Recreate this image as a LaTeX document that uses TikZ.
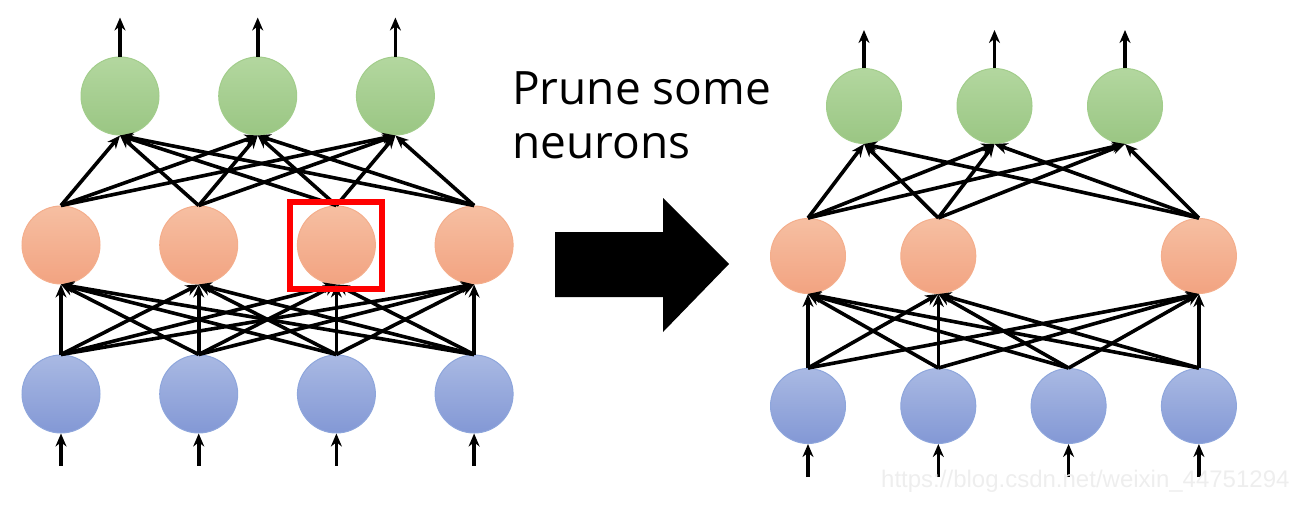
\documentclass[tikz,border=0pt]{standalone}
\usepackage{fontspec}
\setmainfont{Open Sans}
\newfontfamily\markfont{Liberation Sans}
\usetikzlibrary{arrows.meta, positioning, calc}

\definecolor{intop}{HTML}{A9B9E3}
\definecolor{inbot}{HTML}{8398D5}
\definecolor{inrim}{HTML}{8EA6DC}
\definecolor{hidtop}{HTML}{F6BFA2}
\definecolor{hidbot}{HTML}{F2A381}
\definecolor{hidrim}{HTML}{F4AE8C}
\definecolor{outtop}{HTML}{B3D79F}
\definecolor{outbot}{HTML}{9AC683}
\definecolor{outrim}{HTML}{A2CD8B}

\begin{document}
\begin{tikzpicture}[
  x=1pt, y=-1pt,
  on grid,
  neuron/.style={
    circle,
    minimum size=#1,
    inner sep=0pt,
    line width=1pt
  },
  neuron/.default=78pt,
  innode/.style={neuron=#1, draw=inrim, top color=intop, bottom color=inbot},
  innode/.default=78pt,
  hidnode/.style={neuron=#1, draw=hidrim, top color=hidtop, bottom color=hidbot},
  hidnode/.default=78pt,
  outnode/.style={neuron=#1, draw=outrim, top color=outtop, bottom color=outbot},
  outnode/.default=78pt,
  prunebox/.style={draw=red, line width=6pt, inner sep=0pt},
  arrow/.style={-{Stealth[length=13pt, width=11pt]}, line width=3.6pt}
]

\useasboundingbox (0,0) rectangle (1311,504);

% ------------------------------------------------------------
% Original network
% ------------------------------------------------------------

\node[innode] (inL1) at (61,394) {};
\node[innode, right=137.7pt of inL1] (inL2) {};
\node[innode, right=137.7pt of inL2] (inL3) {};
\node[innode, right=137.7pt of inL3] (inL4) {};

\node[hidnode, above=149pt of inL1] (hidL1) {};
\node[hidnode, above=149pt of inL2] (hidL2) {};
\node[hidnode, above=149pt of inL3] (hidL3) {};
\node[hidnode, above=149pt of inL4] (hidL4) {};

\node[outnode] (outL1) at (120,96) {};
\node[outnode, right=137.7pt of outL1] (outL2) {};
\node[outnode, right=137.7pt of outL2] (outL3) {};

\foreach \i in {1,...,4}
  \foreach \j in {1,...,4}
    \draw[arrow] (inL\i.north) -- (hidL\j.south);

\foreach \i in {1,...,4}
  \foreach \j in {1,...,3}
    \draw[arrow] (hidL\i.north) -- (outL\j.south);

\foreach \k in {1,...,4} {
  \coordinate[below=32pt of inL\k.south] (srcL\k);
  \draw[arrow] (srcL\k) -- (inL\k.south);
}
\foreach \k in {1,...,3} {
  \coordinate[above=39pt of outL\k.north] (tipL\k);
  \draw[arrow] (outL\k.north) -- (tipL\k);
}

% neuron to be pruned
\node[prunebox, minimum width=92pt, minimum height=87pt] (cut) at (hidL3) {};

% ------------------------------------------------------------
% Pruning step
% ------------------------------------------------------------

\node[font=\fontsize{46}{54}\selectfont, align=left, anchor=base west,
      inner sep=0pt] (label) at (512,158) {Prune some\\neurons};

\fill (555,232) -- (663,232) -- (663,198) -- (729,264)
      -- (663,332) -- (663,297) -- (555,297) -- cycle;

% ------------------------------------------------------------
% Pruned network
% ------------------------------------------------------------

\node[innode=75pt] (inR1) at (808,406) {};
\node[innode=75pt, right=130.3pt of inR1] (inR2) {};
\node[innode=75pt, right=130.3pt of inR2] (inR3) {};
\node[innode=75pt, right=130.3pt of inR3] (inR4) {};

\node[hidnode=75pt, above=150pt of inR1] (hidR1) {};
\node[hidnode=75pt, above=150pt of inR2] (hidR2) {};
\node[hidnode=75pt, above=150pt of inR4] (hidR4) {};

\node[outnode=75pt] (outR1) at (864,106) {};
\node[outnode=75pt, right=130.5pt of outR1] (outR2) {};
\node[outnode=75pt, right=130.5pt of outR2] (outR3) {};

\foreach \i in {1,...,4}
  \foreach \j in {1,2,4}
    \draw[arrow] (inR\i.north) -- (hidR\j.south);

\foreach \i in {1,2,4}
  \foreach \j in {1,...,3}
    \draw[arrow] (hidR\i.north) -- (outR\j.south);

\foreach \k in {1,...,4} {
  \coordinate[below=33pt of inR\k.south] (srcR\k);
  \draw[arrow] (srcR\k) -- (inR\k.south);
}
\foreach \k in {1,...,3} {
  \coordinate[above=38pt of outR\k.north] (tipR\k);
  \draw[arrow] (outR\k.north) -- (tipR\k);
}

\node[font=\markfont\fontsize{24}{24}\selectfont, text=gray!13, anchor=base west,
      inner sep=0pt] (mark) at (881,487) {https://blog.csdn.net/weixin\_44751294};

\end{tikzpicture}
\end{document}
